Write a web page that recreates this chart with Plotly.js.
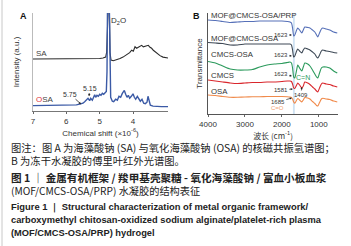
<!DOCTYPE html>
<html><head><meta charset="utf-8">
<script src="https://cdn.plot.ly/plotly-3.0.1.min.js"></script>
<style>html,body{margin:0;padding:0;background:#fff;}#c{width:351px;height:246px;}</style>
</head><body><div id="c"></div>
<script>
// ---- Panel A: 1H NMR (chemical shift, ppm ; intensity, a.u.) ----
const saShift = [7.0,6.5,6.0,5.5,5.2,5.0,4.9,4.82,4.79,4.76,4.72,4.69,4.66,4.59,4.5,4.39,4.3,4.19,4.1,4.04,3.99,3.94,3.89,3.84,3.79,3.74,3.69,3.64,3.59,3.54,3.49,3.44,3.39,3.34,3.25,3.19,3.1,2.99,2.95];
const saInt   = [53,53,53,53.2,53.4,53.6,54,55,60,130,130,60,52,51.3,52,53.5,55,57,59.5,62,61,65.5,64,65,66,67,65.5,66,67,67,65,64,62,60.5,58,56.5,55,54,54];
const osaShift = [7.0,6.5,6.0,5.8,5.7,5.6,5.5,5.45,5.4,5.35,5.3,5.27,5.22,5.18,5.15,5.12,5.08,5.04,5.0,4.96,4.92,4.88,4.84,4.8,4.78,4.76,4.72,4.70,4.67,4.62,4.58,4.52,4.47,4.42,4.37,4.32,4.26,4.22,4.18,4.14,4.1,4.05,4.0,3.96,3.92,3.87,3.82,3.78,3.73,3.68,3.63,3.58,3.55,3.52,3.48,3.4,3.3,3.15,2.95];
const osaInt   = [5.5,5.5,5.6,5.8,6.2,7,8,9.5,11,13,10.5,13,11,14,16.5,14,16,15,17,16,18,17,18.5,20,40,130,130,50,14,10,9.5,12,11,15,14,18,21,17,14,16,13,15,17.5,14,12,15,12,10,12,8,7.5,9,15,10,6,5,4.5,4.5,4.5];
const nmrTicks = [7,6,5,4];

// ---- Panel B: FTIR (wavenumber, cm-1 ; transmittance, a.u., offset) ----
const wavenumber = [4000,3800,3600,3400,3200,3000,2800,2600,2400,2200,2000,1850,1780,1740,1710,1680,1650,1600,1570,1520,1460,1420,1380,1300,1240,1170,1108,1060,1027,980,930,890,800,703,600,500];
const tPRP     = [93,92.5,91.5,90.5,91,91.5,91.5,92,92,92,92,91.5,91,90,85,77,78,83,85,83,80,83,86,85.5,85,83,81,78,76,80,84,85,84,83,81,80];
const tMOF     = [70.5,70,69.5,68,68,69,69,69,69,69,69,69,69,68,63,56,57,62,64,62,60,63,65,64,63,61,59,56,55,58,62,63,62,61.5,60.5,60];
const tCMCSOSA = [51.5,50,47,44,43,43,43.5,46,48,49,49.5,50.5,51,50,45,36,35,43,48,45,42,46,50,49,47,43,39,36,35,40,45,46,46,45,42,40];
const tCMCS    = [33,32,31,30,29.5,30,30.5,30.5,31,31,31.5,32,32,31.5,29,25,24.5,28,30,28,25,27,31,30,28.5,26,24,22,21,25,29,30,29,28.5,27,26];
const tOSA     = [18,17.5,16.5,15.7,15.7,16,16.2,16.2,16.5,16.5,16.5,16.3,16,15.5,14,11,9.7,13,14.5,13,11,13,15.5,15,14,11.5,9.5,7.5,7,10.5,14,14.7,14,13.5,12,11];
const ftTicks = [4000,3000,2000,1000];
const ftNames = ['MOF@CMCS-OSA/PRP','MOF@CMCS-OSA','CMCS-OSA','CMCS','OSA'];
const ftColors = ['#5670b8','#3e4956','#2b9a5c','#d9262c','#f08a4b'];
const ftSeries = [tPRP,tMOF,tCMCSOSA,tCMCS,tOSA];

const F = 'Liberation Sans, Arial, sans-serif';
const CJK = 'Noto Sans CJK SC, sans-serif';

const traces = [
  {x: saShift, y: saInt, type:'scatter', mode:'lines', line:{color:'#2b2b2b', width:1.1}, xaxis:'x', yaxis:'y', hoverinfo:'skip'},
  {x: osaShift, y: osaInt, type:'scatter', mode:'lines', line:{color:'#3b5aa6', width:1.4}, xaxis:'x', yaxis:'y', hoverinfo:'skip'}
];
ftSeries.forEach((s,i)=>traces.push({x: wavenumber, y: s, type:'scatter', mode:'lines',
  line:{color: ftColors[i], width:1.1, shape:'spline', smoothing:0.5}, xaxis:'x2', yaxis:'y2', hoverinfo:'skip'}));

const H = 246, W = 351;
const py = p => 1 - p/H;
const px = p => p/W;

const ann = [];
ann.push({text:'<b>A</b>', x:px(18), y:py(9), xref:'paper', yref:'paper', showarrow:false, font:{family:F,size:9,color:'#111'}});
ann.push({text:'<b>B</b>', x:px(196), y:py(9), xref:'paper', yref:'paper', showarrow:false, font:{family:F,size:9,color:'#111'}});
ann.push({text:'D<sub>2</sub>O', x:4.45, y:92, xref:'x', yref:'y', showarrow:false, font:{family:F,size:8,color:'#333'}});
ann.push({text:'SA', x:6.98, y:59, xref:'x', yref:'y', xanchor:'left', showarrow:false, font:{family:F,size:8,color:'#444'}});
ann.push({text:'<span style="color:#e0303a">O</span>SA', x:6.98, y:12, xref:'x', yref:'y', xanchor:'left', showarrow:false, font:{family:F,size:8,color:'#444'}});
ann.push({text:'5.75', x:5.56, y:7, xref:'x', yref:'y', ax:-11, ay:-10, showarrow:true, arrowhead:2, arrowsize:0.6, arrowwidth:0.8, arrowcolor:'#222', standoff:0, font:{family:F,size:7,color:'#333'}});
ann.push({text:'5.15', x:5.32, y:15, xref:'x', yref:'y', ax:1, ay:-8, showarrow:true, arrowhead:2, arrowsize:0.6, arrowwidth:0.8, arrowcolor:'#222', standoff:0, font:{family:F,size:7,color:'#333'}});
const labY = [98,75,59,38,22];
ftNames.forEach((n,i)=>ann.push({text:n, x:3975, y:labY[i], xref:'x2', yref:'y2', xanchor:'left', showarrow:false, font:{family:F,size:7.8,color:'#333'}}));
const arrowOpts = {showarrow:true, arrowhead:2, arrowsize:0.6, arrowwidth:0.7, arrowcolor:'#222', standoff:0};
[[78,0],[57,-1],[37,-2]].forEach(([v,ay])=>ann.push(Object.assign({text:'1623', x:1730, y:v, xref:'x2', yref:'y2', ax:-11, ay:ay, font:{family:F,size:6,color:'#333'}}, arrowOpts)));
ann.push(Object.assign({text:'1581', x:1703, y:24, xref:'x2', yref:'y2', ax:-12, ay:1, font:{family:F,size:6,color:'#333'}}, arrowOpts));
ann.push(Object.assign({text:'1409', x:1459, y:26, xref:'x2', yref:'y2', ax:-1, ay:8, font:{family:F,size:6,color:'#333'}}, arrowOpts));
ann.push(Object.assign({text:'1685', x:1730, y:15, xref:'x2', yref:'y2', ax:-14, ay:4, font:{family:F,size:6,color:'#333'}}, arrowOpts));
ann.push({text:'C=N', x:1419, y:36, xref:'x2', yref:'y2', showarrow:false, font:{family:F,size:7,color:'#2b9a5c'}});
ann.push({text:'C=O', x:2108, y:5, xref:'x2', yref:'y2', showarrow:false, font:{family:F,size:6,color:'#f3a070'}});

const capLines = [
  ['图注：图 A 为海藻酸钠 (SA) 与氧化海藻酸钠 (OSA) 的核磁共振氢谱图；',147.5,10.3,false,CJK],
  ['B 为冻干水凝胶的傅里叶红外光谱图。',160.5,10.3,false,CJK],
  ['图 1 ｜ 金属有机框架 / 羧甲基壳聚糖 - 氧化海藻酸钠 / 富血小板血浆',177,10.6,true,CJK],
  ['(MOF/CMCS-OSA/PRP) 水凝胶的结构表征',190.5,10.2,false,CJK],
  ['Figure 1 ｜ Structural characterization of metal organic framework/',207,9.4,true,F],
  ['carboxymethyl chitosan-oxidized sodium alginate/platelet-rich plasma',220,9.3,true,F],
  ['(MOF/CMCS-OSA/PRP) hydrogel',233,9.3,true,F]
];
capLines.forEach(([t,y,s,b,f])=>ann.push({text: b?'<b>'+t+'</b>':t, x:px(9), y:py(y), xref:'paper', yref:'paper', xanchor:'left', yanchor:'middle', showarrow:false, font:{family:f,size:s,color:'#222'}}));

const layout = {
  width:W, height:H, margin:{l:0,r:0,t:0,b:0}, showlegend:false,
  paper_bgcolor:'#fff', plot_bgcolor:'rgba(0,0,0,0)',
  xaxis:{domain:[px(33),px(168)], anchor:'y', range:[7,2.95], tickvals:nmrTicks, ticks:'outside', ticklen:2, tickcolor:'#666',
    tickfont:{family:F,size:8,color:'#333'}, showline:true, linecolor:'#777', linewidth:1, showgrid:false, zeroline:false,
    title:{text:'Chemical shift (×10<sup>-6</sup>)', font:{family:F,size:8,color:'#333'}, standoff:5}},
  yaxis:{domain:[py(111),py(13)], anchor:'x', range:[0,100], showticklabels:false, ticks:'', showline:true, linecolor:'#bbb', showgrid:false, zeroline:false,
    title:{text:'Intensity (a.u.)', font:{family:F,size:8,color:'#333'}, standoff:11}},
  xaxis2:{domain:[px(208),px(338)], anchor:'y2', range:[4000,480], tickvals:ftTicks, ticks:'outside', ticklen:2, tickcolor:'#666',
    tickfont:{family:F,size:8,color:'#333'}, showline:true, linecolor:'#555', linewidth:1, showgrid:false, zeroline:false,
    title:{text:'波长 (cm<sup>-1</sup>)', font:{family:CJK,size:8,color:'#333'}, standoff:5}},
  yaxis2:{domain:[py(114),py(13)], anchor:'x2', range:[-1,100], showticklabels:false, ticks:'', showline:true, linecolor:'#555', showgrid:false, zeroline:false,
    title:{text:'Transmittance', font:{family:F,size:8,color:'#333'}, standoff:3}},
  shapes:[
    {type:'rect', xref:'x2', yref:'y2', x0:1700, x1:1650, y0:-1, y1:100, fillcolor:'#cfe2f3', line:{width:0}, layer:'below'},
    {type:'line', xref:'paper', yref:'paper', x0:px(2), x1:px(2), y0:0, y1:1, line:{color:'#c8c8c8', width:1}}
  ],
  annotations: ann
};
Plotly.newPlot('c', traces, layout, {staticPlot:true, displayModeBar:false});
</script></body></html>
